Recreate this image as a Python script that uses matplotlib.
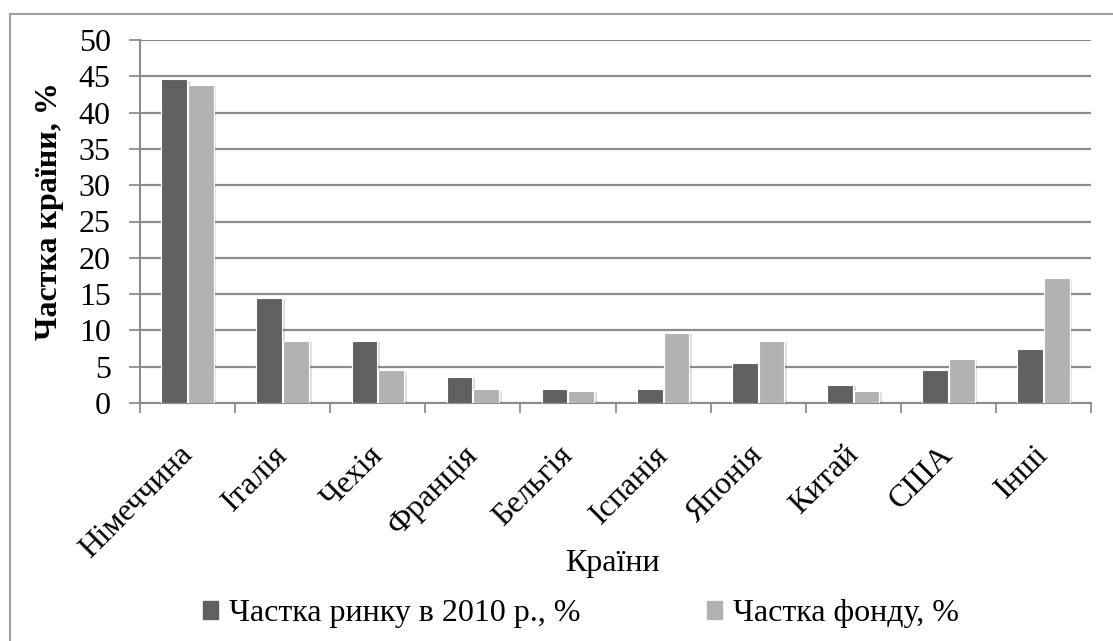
import matplotlib.pyplot as plt
from matplotlib.patches import Rectangle, Patch
import matplotlib.patheffects as pe
import numpy as np

countries = ["Німеччина", "Італія", "Чехія", "Франція", "Бельгія",
             "Іспанія", "Японія", "Китай", "США", "Інші"]
market_2010 = [44.6, 14.4, 8.6, 3.6, 1.9, 1.9, 5.5, 2.5, 4.5, 7.5]
fund_share = [43.8, 8.6, 4.5, 1.9, 1.7, 9.7, 8.6, 1.7, 6.1, 17.2]
yticks = [0, 5, 10, 15, 20, 25, 30, 35, 40, 45, 50]

DARK, LIGHT, GRID = "#606060", "#b2b2b2", "#8c8c8c"
FONT = "Liberation Serif"
FS = 23
plt.rcParams["font.family"] = [FONT, "DejaVu Serif"]

fig = plt.figure(figsize=(11.13, 6.41), dpi=100)
W, H = 1113, 641
ax = fig.add_axes([140 / W, 1 - 403 / H, (1091 - 140) / W, (403 - 40) / H])

# outer chart frame
fig.patches.append(Rectangle((10 / W, -0.01), 1.02, 1 - 14 / H + 0.01,
                             transform=fig.transFigure, fill=False,
                             edgecolor="#a0a0a0", linewidth=1.5, zorder=0))

x = np.arange(len(countries))
bw, off = 0.27, 0.14
shadow = [pe.SimplePatchShadow(offset=(2, -1), alpha=0.15), pe.Normal()]
b1 = ax.bar(x - off, market_2010, bw, color=DARK, edgecolor="white", linewidth=0.8, zorder=3)
b2 = ax.bar(x + off, fund_share, bw, color=LIGHT, edgecolor="white", linewidth=0.8, zorder=3)
for b in list(b1) + list(b2):
    b.set_path_effects(shadow)

ax.set_xlim(-0.5, len(countries) - 0.5)
ax.set_ylim(0, 50)
ax.set_yticks(yticks)
ax.yaxis.grid(True, color=GRID, linewidth=1.6, zorder=0)
ax.set_axisbelow(True)

# separator ticks between groups, labels on minor ticks (nudged left like Excel)
ax.set_xticks(np.arange(len(countries) + 1) - 0.5)
ax.set_xticklabels([])
ax.set_xticks(x - 0.1, minor=True)
ax.set_xticklabels(countries, minor=True, rotation=45, ha="right",
                   rotation_mode="anchor", fontsize=FS, family=FONT)
ax.tick_params(axis="x", which="minor", length=0, pad=27)
ax.tick_params(axis="x", which="major", length=7, color=GRID, width=1.3)
ax.tick_params(axis="y", length=8, color=GRID, width=1.3, labelsize=FS, pad=13)
for lbl in ax.get_yticklabels():
    lbl.set_family(FONT)

for s in ["top", "right"]:
    ax.spines[s].set_visible(False)
for s in ["left", "bottom"]:
    ax.spines[s].set_color(GRID)
    ax.spines[s].set_linewidth(1.5)

fig.text(50 / W, 1 - 211 / H, "Частка країни, %", fontsize=FS, fontweight="bold",
         rotation=90, ha="center", va="center")
fig.text(612 / W, 1 - 563 / H, "Країни", fontsize=FS, ha="center", va="center")

handles = [Patch(color=DARK), Patch(color=LIGHT)]
fig.legend(handles, ["Частка ринку в 2010 р., %", "Частка фонду, %"],
           loc="center left", bbox_to_anchor=(203 / W, 1 - 614 / H), ncol=2,
           frameon=False, fontsize=FS, handlelength=0.47, handleheight=0.47,
           handletextpad=0.35, columnspacing=3.95, borderpad=0, borderaxespad=0)

fig.savefig("out.png", dpi=100)
